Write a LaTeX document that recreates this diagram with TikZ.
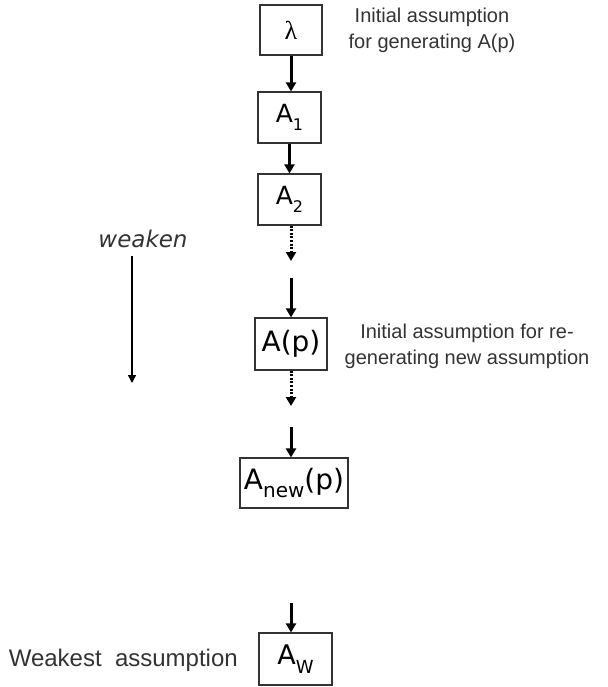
\documentclass[tikz,border=0pt]{standalone}
\usepackage{fontspec}
\setmainfont{Liberation Sans}
\newfontfamily\boxfont{DejaVu Sans}
\newfontfamily\greekfont{Liberation Serif}
\usetikzlibrary{arrows.meta}
\definecolor{ink}{HTML}{333333}
\newcommand{\lowidx}[2]{\raisebox{-0.32em}{\fontsize{#1}{#1}\selectfont #2}}
\begin{document}
\begin{tikzpicture}[x=1pt,y=-1pt,
  box/.style={draw=ink, line width=1.2pt, inner sep=0pt, text=black, font=\boxfont},
  flow/.style={line width=3pt, draw=black, -{Triangle[width=10pt,length=9pt]}},
  gap/.style={flow, dash pattern=on 2pt off 1.6pt},
  note/.style={font=\fontsize{20}{26}\selectfont, text=ink, align=center, inner sep=0pt}]
\useasboundingbox (0,0) rectangle (607,687);

% chain of assumption boxes
\node[box, minimum width=62pt, minimum height=50pt] (lam) at (291,30)
  {\greekfont\fontsize{26}{26}\selectfont λ};
\node[box, minimum width=63pt, minimum height=51pt] (a1) at (289.5,117.5)
  {\fontsize{25}{25}\selectfont A\lowidx{16}{1}};
\node[box, minimum width=63pt, minimum height=51pt] (a2) at (289.5,199.5)
  {\fontsize{25}{25}\selectfont A\lowidx{16}{2}};
\node[box, minimum width=72pt, minimum height=52pt] (ap) at (291,344)
  {\fontsize{28}{28}\selectfont A(p)};
\node[box, minimum width=108pt, minimum height=50pt] (anew) at (294,483)
  {\fontsize{28}{28}\selectfont A\lowidx{20}{new}(p)};
\node[box, minimum width=73pt, minimum height=52pt] (aw) at (295.5,659)
  {\fontsize{27}{27}\selectfont A\lowidx{18}{W}};

% free ends of the interrupted steps
\coordinate (gap1end) at (291,261);
\coordinate (gap1start) at (291,278);
\coordinate (gap2end) at (291,406);
\coordinate (gap2start) at (291,427);
\coordinate (gap3start) at (291,603);

% connectors
\draw[flow] (lam.south) -- (lam.south |- a1.north);
\draw[flow] (a1.south) -- (a1.south |- a2.north);
\draw[gap] (a2.south -| gap1end) -- (gap1end);
\draw[flow] (gap1start) -- (gap1start |- ap.north);
\draw[gap] (ap.south -| gap2end) -- (gap2end);
\draw[flow] (gap2start) -- (gap2start |- anew.north);
\draw[flow] (gap3start) -- (gap3start |- aw.north);

% annotations
\node[note] (noteinit) at (432,30) {Initial assumption\\for generating A(p)};
\node[note] (notere) at (467,346) {Initial assumption for re-\\generating new assumption};
\node[note, font=\fontsize{24}{28}\selectfont, anchor=east] (noteweak) at (238,660) {Weakest\ \ assumption};

% weakening direction
\node[inner sep=0pt, text=ink, font=\boxfont\itshape\fontsize{23}{23}\selectfont] (weaken) at (143,239) {weaken};
\coordinate (weakenend) at (132,383);
\draw[line width=1.5pt, -{Triangle[width=8pt,length=8pt]}] (132,256) -- (weakenend);
\end{tikzpicture}
\end{document}
